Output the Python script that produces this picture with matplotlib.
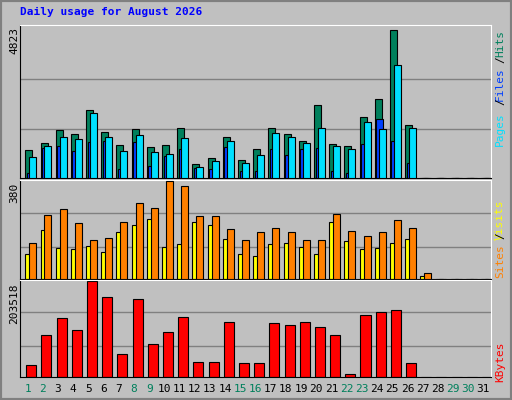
import matplotlib
matplotlib.use("Agg")
import matplotlib.pyplot as plt
from matplotlib.patches import Rectangle

days = list(range(1, 32))
hits = [918,1148,1575,1444,2231,1509,1083,1608,1017,1083,1640,459,656,1345,590,951,1640,1444,1214,2395,1115,1050,2001,2592,4823,1739,15,0,0,0,0]
files = [689,1050,1345,1280,2133,1345,886,1411,853,787,1312,361,558,1214,492,755,1476,1345,1148,1640,1050,951,1837,1608,3675,1640,0,0,0,0,0]
pages = [164,984,1050,886,1181,1214,295,1181,394,722,951,328,295,1017,230,230,951,755,951,984,230,164,1115,1936,1214,492,0,0,0,0,0]
visits = [99,190,120,116,128,107,182,211,235,124,136,223,211,157,99,91,136,140,124,99,223,149,116,120,140,157,12,0,0,0,0]
sites = [140,248,273,219,153,161,223,297,277,380,363,244,244,194,153,182,198,182,153,153,252,186,169,182,231,198,25,0,0,0,0]
kbytes = [25254,89874,125526,101016,203518,170091,49765,165635,69819,96559,127755,31939,31939,116613,29710,29710,114385,109929,116613,105472,89874,7428,132210,138895,143351,29710,1000,0,0,0,0]
weekend = [1,2,8,9,15,16,22,23,29,30]
title = "Daily usage for August 2026"

BG = "#C0C0C0"
MONO = "DejaVu Sans Mono"
fig = plt.figure(figsize=(5.12, 4.0), dpi=100, facecolor=BG)
fig.patches.append(Rectangle((0, 0), 1, 1, transform=fig.transFigure, fill=False, edgecolor="#808080", lw=3, zorder=-1))
fig.text(20/512, 1-12/400, title, color="#0000FF", fontsize=8, fontweight="bold", family=MONO, va="center")

L, R = 20/512, 491/512
def mkax(top, bot):
    ax = fig.add_axes([L, 1-bot/400, R-L, (bot-top)/400])
    ax.set_facecolor(BG)
    ax.set_xlim(0, 31)
    ax.set_xticks([]); ax.set_yticks([])
    for s in ["left", "bottom"]:
        ax.spines[s].set_color("black")
    for s in ["top", "right"]:
        ax.spines[s].set_color("white")
    return ax

x0 = [d-1 for d in days]
def bars(ax, vals, off, w, color, z):
    ax.bar([x+off for x in x0], vals, width=w, align="edge", color=color, edgecolor="black", lw=0.8, zorder=z)

def vlabel(y, s, c):
    fig.text(500/512, 1-y/400, s, rotation=90, color=c, fontsize=8, family=MONO, va="top", ha="center")

# top panel
ax1 = mkax(25, 178)
ymax = max(hits)
ax1.set_ylim(0, ymax*1.035)
for g in (1/3, 2/3):
    ax1.axhline(ymax*g, color="#808080", lw=1, zorder=1)
bars(ax1, hits, 0.35, 0.46, "#00805C", 2)
bars(ax1, pages, 0.45, 0.46, "#0040FF", 3)
bars(ax1, files, 0.61, 0.46, "#00E0FF", 4)
fig.text(14/512, 1-27/400, str(ymax), rotation=90, fontsize=8, family=MONO, va="top", ha="center")
vlabel(30, "Hits", "#00805C")
vlabel(56, "/", "black")
vlabel(67, "Files", "#0040FF")
vlabel(98, "/", "black")
vlabel(112, "Pages", "#00E0FF")

# middle panel
ax2 = mkax(180, 279)
ymax2 = max(sites)
ax2.set_ylim(0, ymax2*1.015)
for g in (0.33, 0.68):
    ax2.axhline(ymax2*g, color="#808080", lw=1, zorder=1)
bars(ax2, visits, 0.35, 0.46, "#FFFF00", 2)
bars(ax2, sites, 0.61, 0.46, "#FF8000", 3)
fig.text(14/512, 1-183/400, str(ymax2), rotation=90, fontsize=8, family=MONO, va="top", ha="center")
vlabel(199, "Visits", "#FFFF00")
vlabel(232, "/", "black")
vlabel(244, "Sites", "#FF8000")

# bottom panel
ax3 = mkax(280, 377)
ymax3 = max(kbytes)
ax3.set_ylim(0, ymax3*1.015)
for g in (0.325, 0.68):
    ax3.axhline(ymax3*g, color="#808080", lw=1, zorder=1)
bars(ax3, kbytes, 0.41, 0.66, "#FF0000", 2)
fig.text(14/512, 1-283/400, str(ymax3), rotation=90, fontsize=8, family=MONO, va="top", ha="center")
vlabel(342, "KBytes", "#FF0000")

for d in days:
    ax3.text(d-0.5, -0.12, str(d), transform=ax3.get_xaxis_transform(), ha="center", va="center",
             fontsize=8, family=MONO, color="#00805C" if d in weekend else "black")

fig.savefig("out.png", dpi=100, facecolor=BG)
